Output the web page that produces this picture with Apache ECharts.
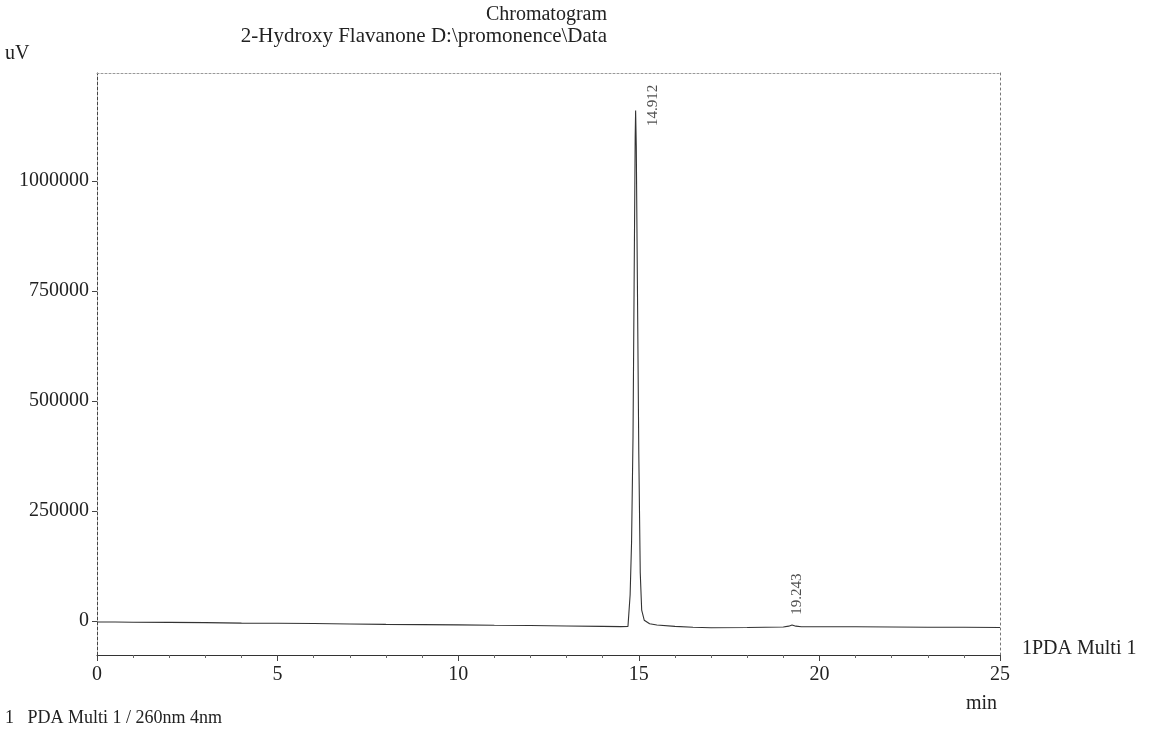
<!DOCTYPE html>
<html>
<head>
<meta charset="utf-8">
<script src="https://cdn.jsdelivr.net/npm/echarts@6/dist/echarts.min.js"></script>
<style>
html,body{margin:0;padding:0;background:#fff;}
#chart{width:1155px;height:737px;}
</style>
</head>
<body>
<div id="chart"></div>
<script>
// Retention time (min) and detector signal (uV)
const times = [0, 0.5, 1, 2, 3, 4, 5, 6, 7, 8, 9, 10, 11, 12, 13, 14, 14.5, 14.7, 14.76, 14.8, 14.84, 14.87, 14.9, 14.912, 14.93, 14.96, 15.0, 15.04, 15.08, 15.15, 15.3, 15.5, 16, 16.5, 17, 18, 19, 19.15, 19.243, 19.35, 19.5, 20, 21, 22, 23, 24, 25];
const signal = [-2000, -2000, -2500, -3000, -3500, -4500, -5000, -5500, -6500, -7500, -8000, -8500, -9500, -10000, -11000, -12000, -12500, -12000, 60000, 180000, 420000, 760000, 1100000, 1160000, 1080000, 780000, 380000, 110000, 25000, 2000, -6000, -9000, -12000, -14000, -15000, -14500, -13500, -11500, -9000, -11500, -13000, -13000, -13000, -13500, -14000, -14000, -14500];
const peakTimes = [14.912, 19.243];
const peakHeights = [1160000, -9000];
const yTicks = [0, 250000, 500000, 750000, 1000000];

const font = '"Liberation Serif", "Times New Roman", serif';
const chart = echarts.init(document.getElementById('chart'));
// label shifts in the rotated label frame: [along text, across text]
const peakShift = [[5, 17], [31, 5]];

chart.setOption({
  animation: false,
  backgroundColor: '#ffffff',
  title: [
    {text: 'Chromatogram', right: 543, top: 0, textStyle: {fontFamily: font, fontSize: 20, fontWeight: 'normal', color: '#222'}},
    {text: '2-Hydroxy Flavanone D:\\promonence\\Data', right: 543, top: 21, textStyle: {fontFamily: font, fontSize: 21, fontWeight: 'normal', color: '#222'}}
  ],
  grid: {left: 97, right: 155, top: 73, bottom: 82, containLabel: false},
  xAxis: [
    {
      type: 'value', min: 0, max: 25, interval: 5,
      axisLine: {show: true, onZero: false, lineStyle: {color: '#333', width: 1.2}},
      axisTick: {show: true, length: 6, lineStyle: {color: '#444'}},
      minorTick: {show: true, splitNumber: 5, length: 3, lineStyle: {color: '#666'}},
      splitLine: {show: false},
      axisLabel: {fontFamily: font, fontSize: 20, color: '#222', margin: 10}
    },
    {
      type: 'value', min: 0, max: 25, position: 'top',
      axisLine: {show: true, onZero: false, lineStyle: {color: '#999', type: [2, 2], width: 1}},
      axisTick: {show: false}, axisLabel: {show: false}, splitLine: {show: false}
    }
  ],
  yAxis: [
    {
      type: 'value', min: -77000, max: 1245000,
      axisLine: {show: true, onZero: false, lineStyle: {color: '#444', type: [3, 2], width: 1}},
      axisTick: {show: true, length: 5, customValues: yTicks, lineStyle: {color: '#444'}},
      axisLabel: {fontFamily: font, fontSize: 20, color: '#222', margin: 8, customValues: yTicks, formatter: v => String(v)},
      splitLine: {show: false}
    },
    {
      type: 'value', min: -77000, max: 1245000, position: 'right',
      axisLine: {show: true, onZero: false, lineStyle: {color: '#777', type: [2, 3], width: 1}},
      axisTick: {show: false}, axisLabel: {show: false}, splitLine: {show: false}
    }
  ],
  series: [
    {
      type: 'line', name: 'PDA Multi 1',
      data: times.map((t, i) => [t, signal[i]]),
      showSymbol: false, symbol: 'none',
      lineStyle: {color: '#333', width: 1.1},
      z: 3
    },
    {
      type: 'scatter',
      data: peakTimes.map((t, i) => [t, peakHeights[i]]),
      symbolSize: 0,
      label: {
        show: true, position: 'inside', rotate: 90,
        fontFamily: font, fontSize: 15, color: '#222',
        formatter: p => p.value[0].toFixed(3)
      },
      labelLayout: p => ({dx: peakShift[p.dataIndex][0], dy: peakShift[p.dataIndex][1]}),
      z: 4
    }
  ],
  graphic: [
    {type: 'text', left: 5, top: 44, style: {text: 'uV', font: '20px ' + font, fill: '#222'}},
    {type: 'text', left: 966, top: 694, style: {text: 'min', font: '20px ' + font, fill: '#222'}},
    {type: 'text', left: 1022, top: 639, style: {text: '1PDA Multi 1', font: '20px ' + font, fill: '#222'}},
    {type: 'text', left: 5, top: 709, style: {text: '1   PDA Multi 1 / 260nm 4nm', font: '18px ' + font, fill: '#222'}}
  ]
});
</script>
</body>
</html>
